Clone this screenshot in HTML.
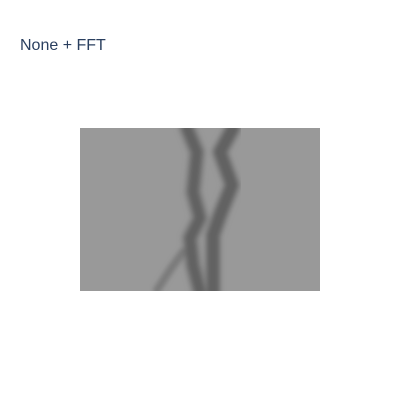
<!DOCTYPE html>
<html><head><meta charset="utf-8"><style>
body{margin:0;background:#fff;width:400px;height:400px;overflow:hidden;font-family:"Liberation Sans",sans-serif}
</style></head><body>
<svg width="400" height="400">
<text x="20" y="50" font-size="16" fill="#2a3f5f">None + FFT</text>
<defs>
<clipPath id="clip"><rect x="80" y="128" width="240" height="163"/></clipPath>
<filter id="blur"><feGaussianBlur stdDeviation="2"/></filter>
</defs>
<g clip-path="url(#clip)">
<rect x="80" y="128" width="240" height="163" fill="#999"/>
<g id="fig" fill="none" stroke-linecap="round" stroke-linejoin="round" filter="url(#blur)"></g>
</g>
<script>
const leftStrand=[[187,128],[197,152],[193,192],[200,218],[190,238],[193,265],[200,292]];
const rightStrand=[[233,128],[220,152],[232,185],[220,215],[213,235],[213,265],[213,292]];
const legTrail=[[183,252],[170,270],[157,290]];
const g=document.getElementById('fig');
function draw(pts,w,c,op,name){
 const p=document.createElementNS('http://www.w3.org/2000/svg','polyline');
 p.setAttribute('points',pts.map(q=>q.join(',')).join(' '));
 p.setAttribute('stroke',c);p.setAttribute('stroke-width',w);p.setAttribute('opacity',op);
 
 
 g.appendChild(p);
}
draw(leftStrand,18,'#808080',0.8,'figure-halo-left');
draw(rightStrand,18,'#808080',0.8,'figure-halo-right');
draw(leftStrand,11,'#5c5c5c',0.85,'figure-left-strand');
draw(rightStrand,12,'#5c5c5c',0.85,'figure-right-strand');
draw(legTrail,8,'#6e6e6e',0.7,'figure-leg-trail');
</script>
</svg>
</body></html>
